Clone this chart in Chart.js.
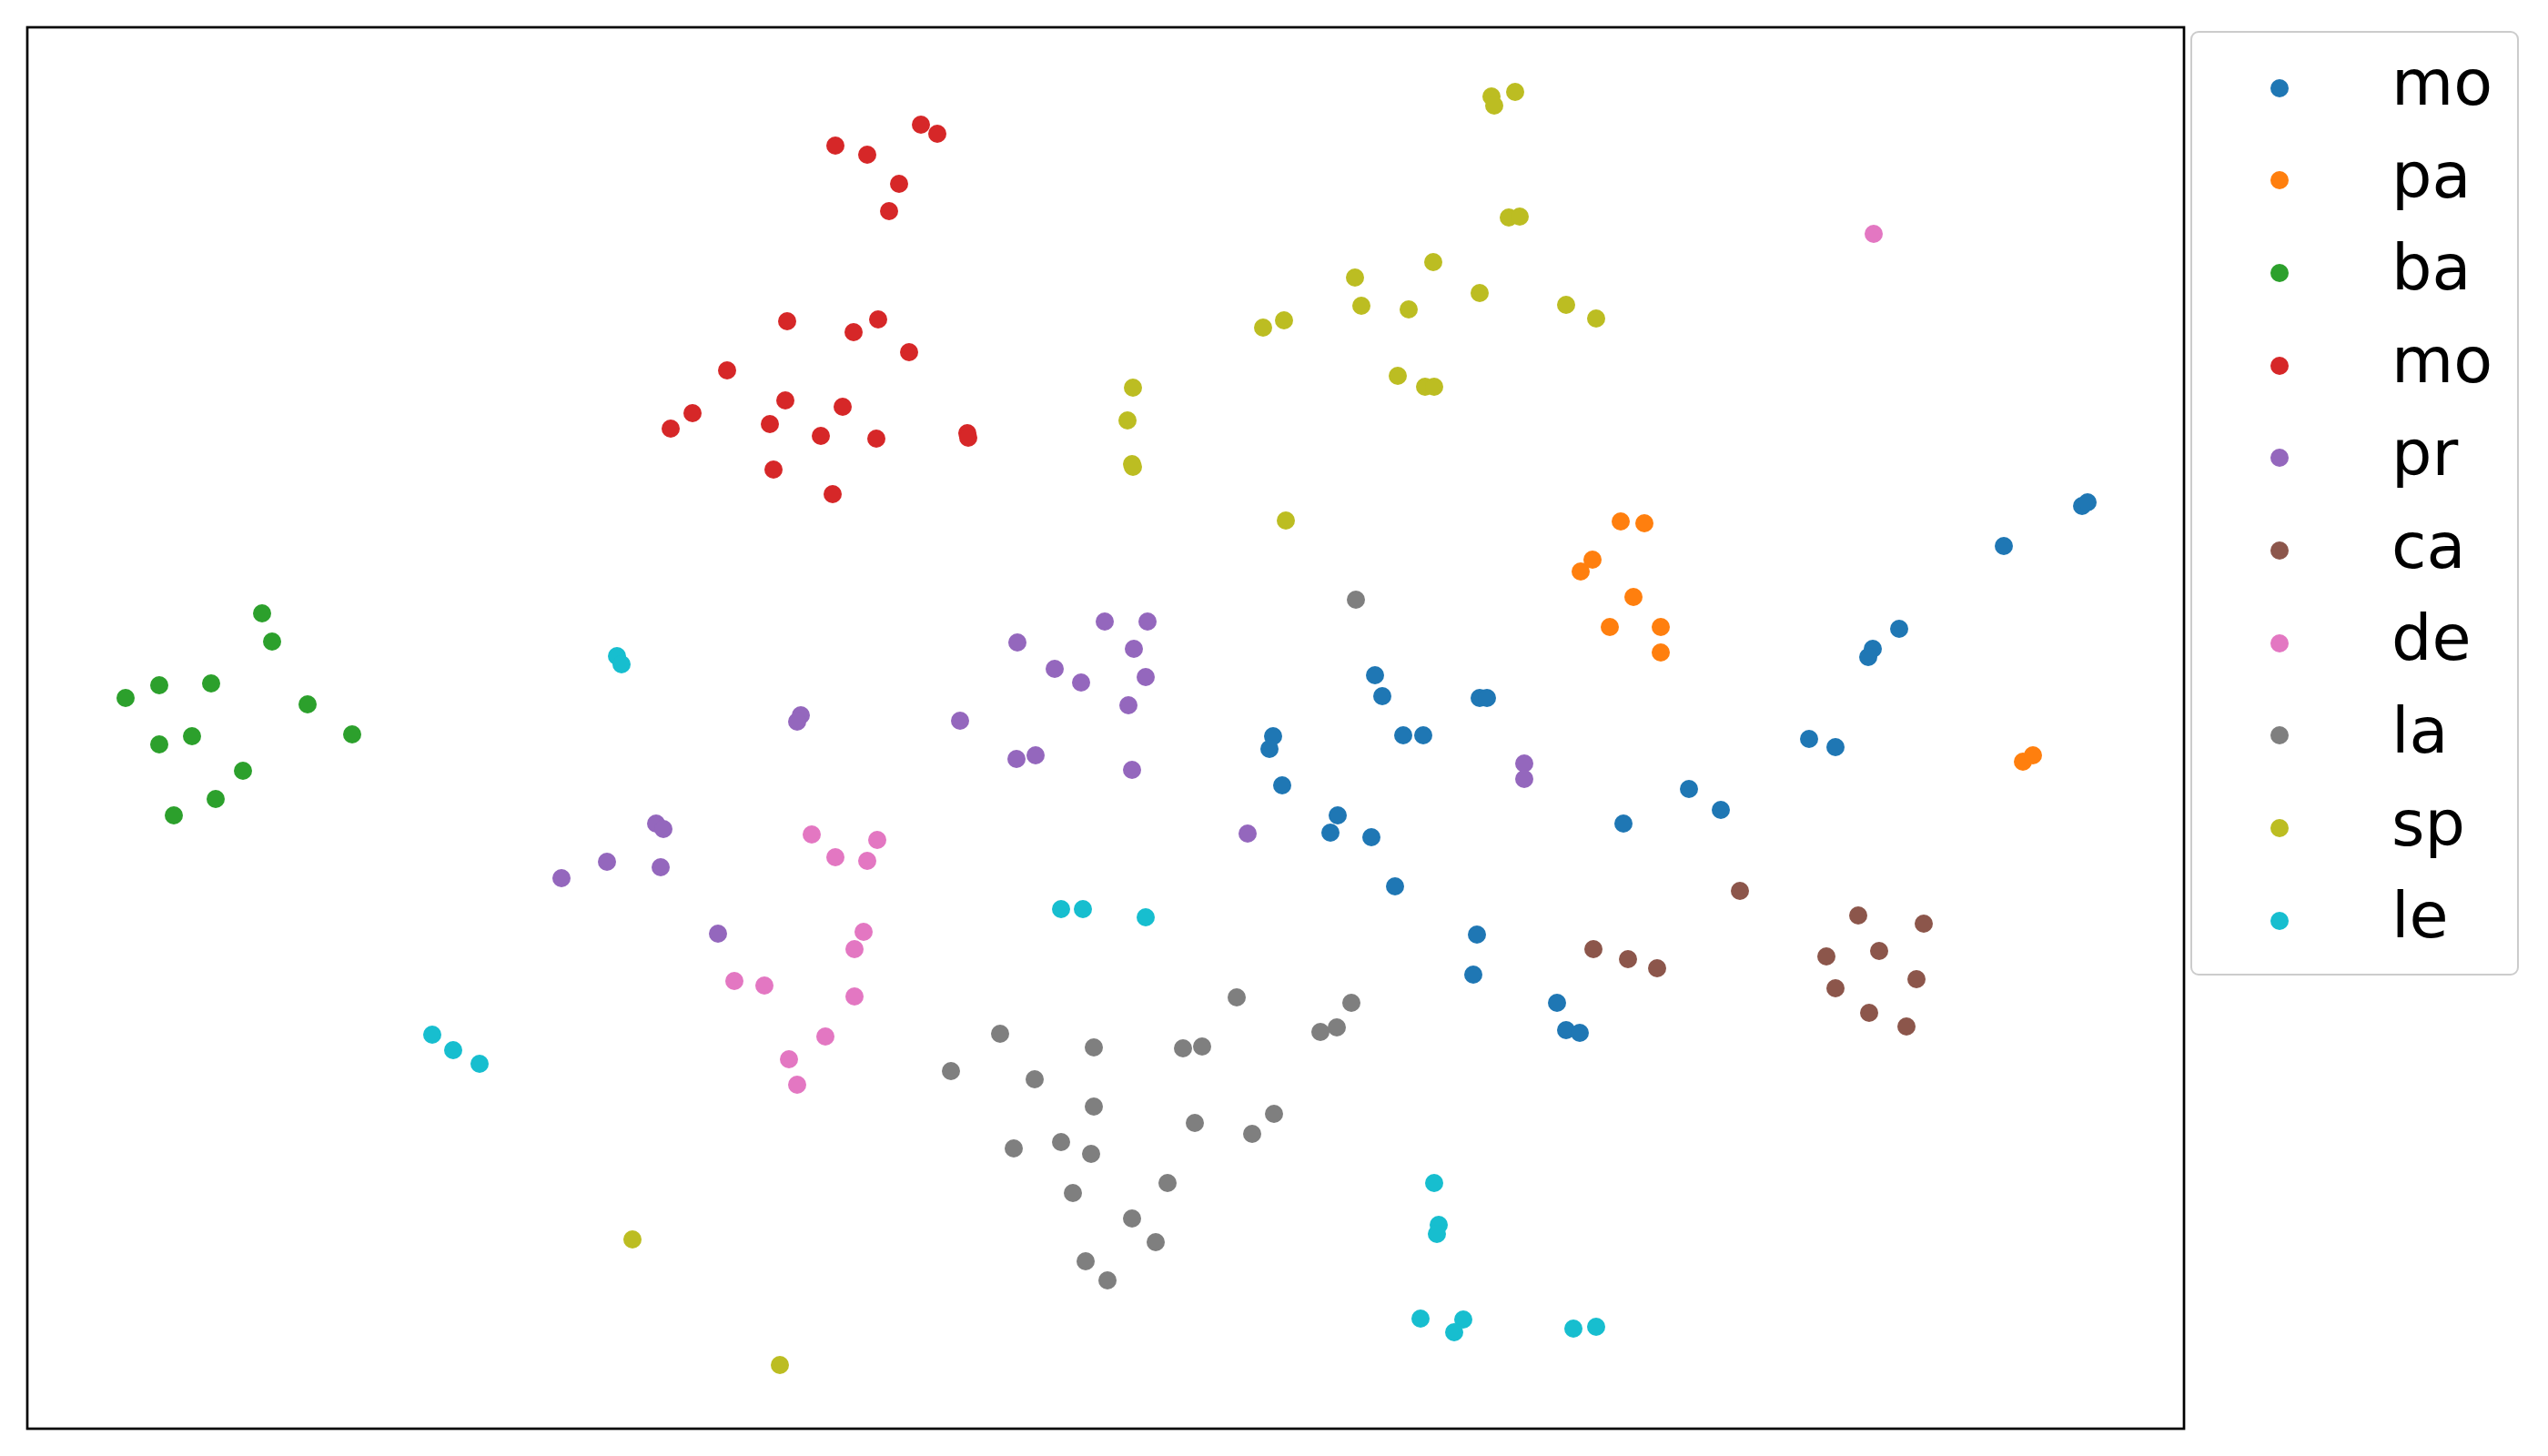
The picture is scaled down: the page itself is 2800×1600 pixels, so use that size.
<!DOCTYPE html>
<html>
<head>
<meta charset="utf-8">
<script src="https://cdn.jsdelivr.net/npm/chart.js@4.4.1/dist/chart.umd.min.js"></script>
<style>
html,body{margin:0;padding:0;background:#fff;}
#wrap{position:relative;width:2800px;height:1600px;overflow:hidden;}
#c{position:absolute;left:0;top:0;}
#legend{position:absolute;left:2407px;top:34px;width:361px;height:1038px;box-sizing:border-box;border:2.5px solid #cccccc;border-radius:9px;background:rgba(255,255,255,0.8);}
.dot{position:absolute;width:20px;height:20px;border-radius:50%;}
.lab{position:absolute;font-family:"DejaVu Sans";font-size:70px;line-height:70px;white-space:nowrap;color:#000;}
</style>
</head>
<body>
<div id="wrap">
<canvas id="c" width="2800" height="1600"></canvas>
<div id="legend"></div>
</div>
<script>
// Series labels (legend order) and colours
const labels = ["mo", "pa", "ba", "mo", "pr", "ca", "de", "la", "sp", "le"];
const colors = ["#1f77b4", "#ff7f0e", "#2ca02c", "#d62728", "#9467bd", "#8c564b", "#e377c2", "#7f7f7f", "#bcbd22", "#17becf"];

// Point values [x, y] (y grows downward)
const moA = [[2288,556],[2294,552],[2202,600],[2087,691],[2058,713],[2053,722],[1511,742],[1519,765],[1626,767],[1634,767],[1399,809],[1395,823],[1542,808],[1564,808],[1988,812],[2017,821],[1409,863],[1856,867],[1891,890],[1470,896],[1462,915],[1507,920],[1784,905],[1533,974],[1623,1027],[1619,1071],[1711,1102],[1721,1132],[1736,1135]];
const pa = [[1781,573],[1807,575],[1750,615],[1737,628],[1795,656],[1769,689],[1825,689],[1825,717],[2223,837],[2234,830]];
const ba = [[288,674],[299,705],[175,753],[232,751],[138,767],[338,774],[387,807],[211,809],[175,818],[267,847],[237,878],[191,896]];
const moB = [[1012,137],[1030,147],[918,160],[953,170],[988,202],[977,232],[865,353],[965,351],[938,365],[999,387],[799,407],[863,440],[926,447],[761,454],[737,471],[846,466],[902,479],[963,482],[1063,476],[1064,481],[850,516],[915,543]];
const pr = [[1118,706],[1159,735],[1188,750],[880,786],[876,793],[1055,792],[1214,683],[1261,683],[1246,713],[1259,744],[1240,775],[1244,846],[1371,916],[1675,839],[1675,856],[1117,834],[1138,830],[721,905],[729,911],[667,947],[617,965],[726,953],[789,1026]];
const ca = [[1912,979],[2042,1006],[2114,1015],[1751,1043],[1789,1054],[1821,1064],[2007,1051],[2065,1045],[2106,1076],[2017,1086],[2054,1113],[2095,1128]];
const de = [[892,917],[964,923],[918,942],[953,946],[949,1024],[939,1043],[807,1078],[840,1083],[939,1095],[907,1139],[867,1164],[876,1192],[2059,257]];
const la = [[1490,659],[1359,1096],[1485,1102],[1451,1134],[1469,1129],[1300,1152],[1321,1150],[1202,1151],[1313,1234],[1400,1224],[1376,1246],[1202,1216],[1199,1268],[1283,1300],[1244,1339],[1270,1365],[1193,1386],[1217,1407],[1099,1136],[1045,1177],[1137,1186],[1114,1262],[1166,1255],[1179,1311]];
const sp = [[1639,106],[1642,116],[1665,101],[1658,239],[1670,238],[1575,288],[1489,305],[1496,336],[1548,340],[1626,322],[1721,335],[1754,350],[1388,360],[1411,352],[1536,413],[1566,425],[1576,425],[1245,426],[1239,462],[1244,510],[1245,513],[1413,572],[695,1362],[857,1500]];
const le = [[678,721],[683,730],[1166,999],[1190,999],[1259,1008],[475,1137],[498,1154],[527,1169],[1576,1300],[1581,1346],[1579,1356],[1561,1449],[1608,1450],[1598,1464],[1729,1460],[1754,1458]];

const series = [moA, pa, ba, moB, pr, ca, de, la, sp, le];

const framePlugin = {
  id: 'frame',
  afterDatasetsDraw(chart) {
    const {ctx, chartArea: a} = chart;
    ctx.save();
    ctx.strokeStyle = '#000';
    ctx.lineWidth = 2.7;
    ctx.strokeRect(a.left, a.top, a.right - a.left, a.bottom - a.top);
    ctx.restore();
  }
};

new Chart(document.getElementById('c'), {
  type: 'scatter',
  data: {
    datasets: series.map((s, i) => ({
      label: labels[i],
      data: s.map(p => ({x: p[0], y: p[1]})),
      backgroundColor: colors[i],
      borderColor: colors[i],
      borderWidth: 0,
      pointRadius: 10,
      pointHoverRadius: 10,
      order: series.length - 1 - i
    }))
  },
  options: {
    responsive: false,
    animation: false,
    devicePixelRatio: 1,
    layout: {padding: {left: 30, top: 30, right: 400, bottom: 30}},
    scales: {
      x: {type: 'linear', min: 30, max: 2400, display: false},
      y: {type: 'linear', min: 30, max: 1570, reverse: true, display: false}
    },
    plugins: {legend: {display: false}, tooltip: {enabled: false}}
  },
  plugins: [framePlugin]
});

// HTML legend built from the series labels/colours
const leg = document.getElementById('legend');
labels.forEach((lab, i) => {
  const d = document.createElement('div');
  d.className = 'dot';
  d.style.background = colors[i];
  d.style.left = '85.5px';
  d.style.top = (50.5 + i * 101.7) + 'px';
  leg.appendChild(d);
  const t = document.createElement('div');
  t.className = 'lab';
  t.textContent = lab;
  t.style.left = '219px';
  t.style.top = (20 + i * 101.7) + 'px';
  leg.appendChild(t);
});
</script>
</body>
</html>
